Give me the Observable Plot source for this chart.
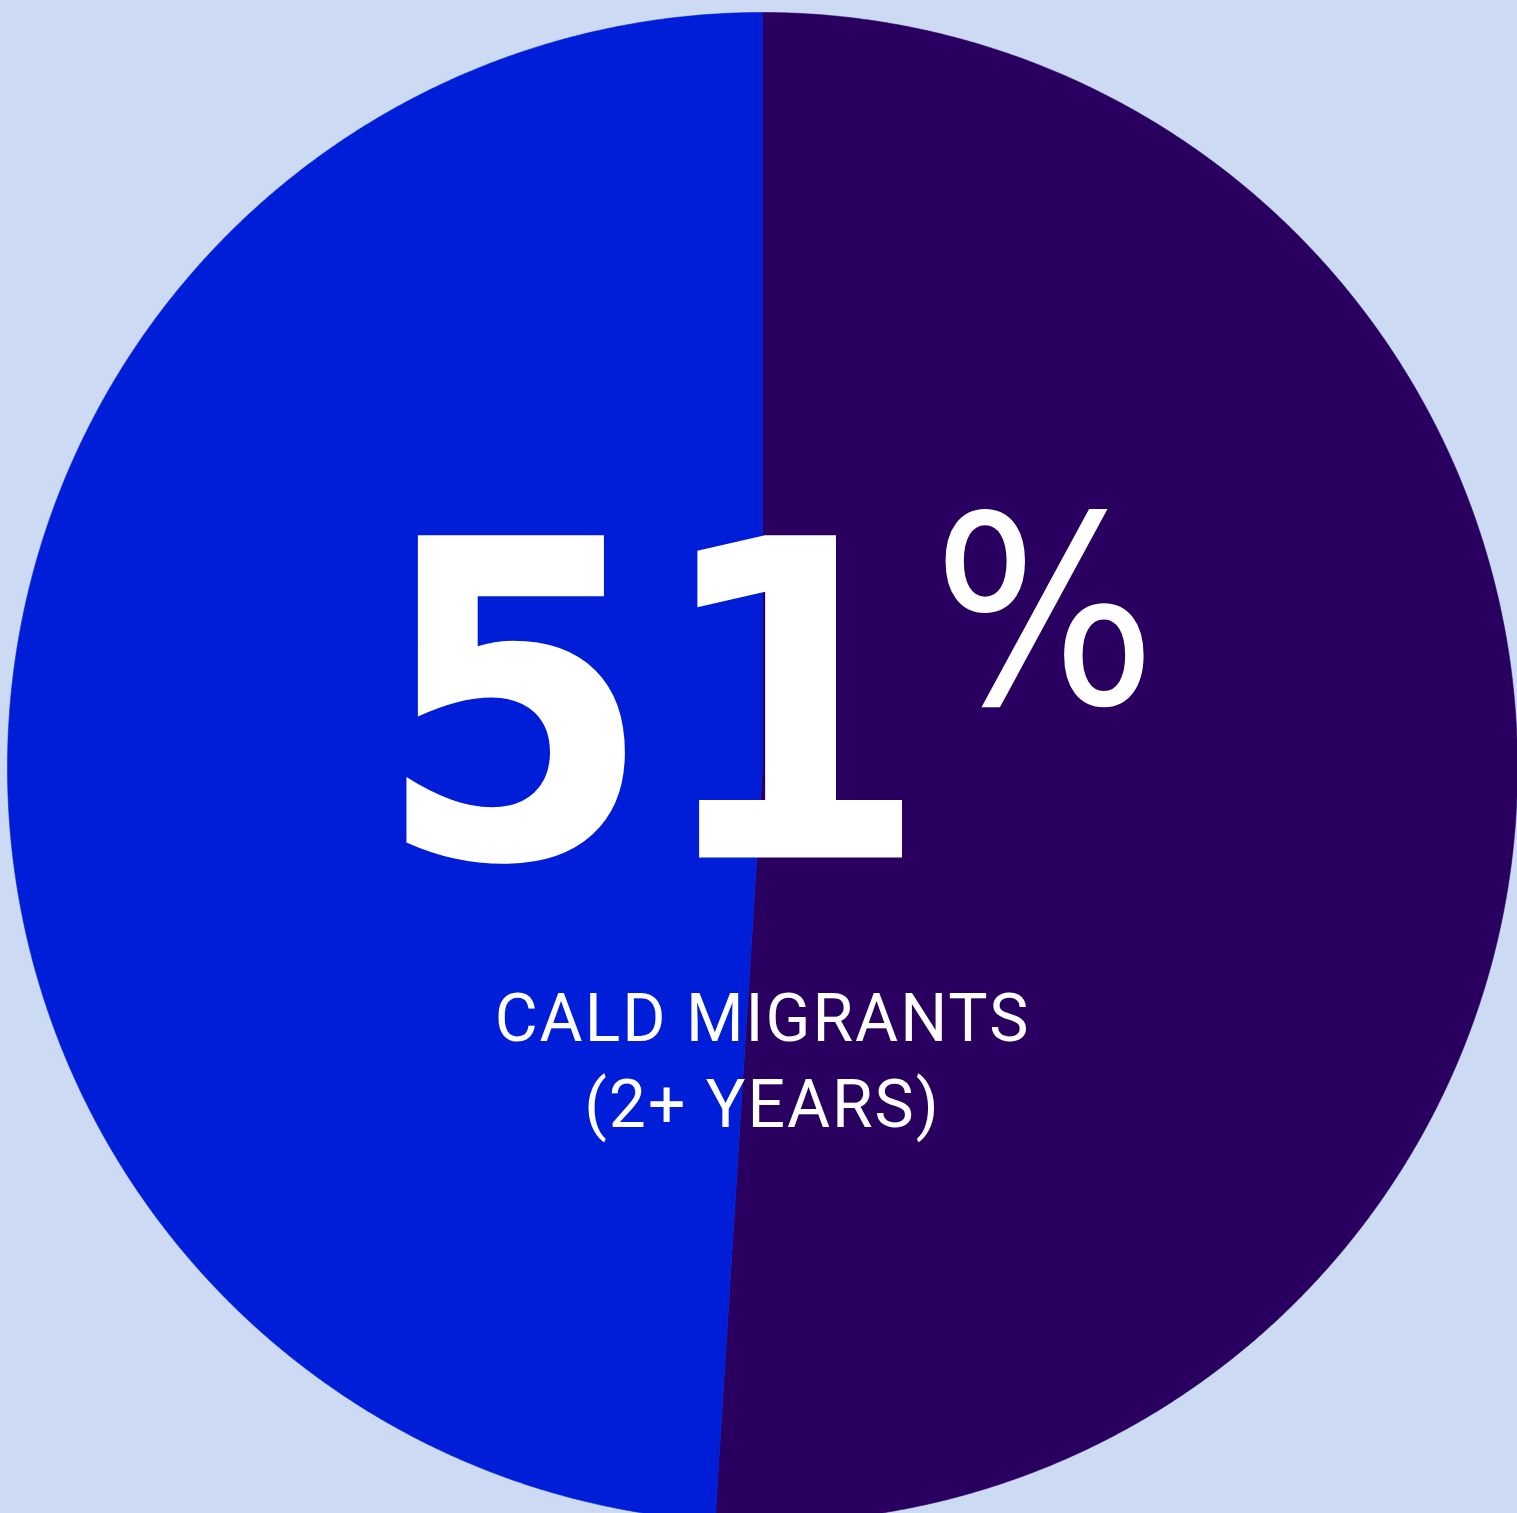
<!DOCTYPE html>
<html>
<head>
<meta charset="utf-8">
<script src="https://cdn.jsdelivr.net/npm/d3@7"></script>
<script src="https://cdn.jsdelivr.net/npm/@observablehq/plot@0.6"></script>
<style>
  html, body { margin: 0; padding: 0; background: #CCDAF4; }
  #chart svg { display: block; }
</style>
</head>
<body>
<div id="chart"></div>
<script>
// ---- data ----
const categories = ["CALD migrants (2+ years)", "Other"];
const values = [51, 49];
const colors = ["#290060", "#001ED8"];
const bigLabel = "51";
const pctLabel = "%";
const captionLines = ["CALD MIGRANTS", "(2+ YEARS)"];

// ---- layout ----
const W = 1517, H = 1513;
const cx = 762, cy = 767, R = 755;

// pie angles via d3.pie (clockwise from top)
const pie = d3.pie().sort(null).value(d => d.value);
const arcs = pie(categories.map((c, i) => ({ cat: c, value: values[i] })));

const pts = [];
for (const a of arcs) {
  const cat = a.data.cat;
  pts.push({ cat, x: 0, y: 0 });
  const n = Math.max(2, Math.ceil((a.endAngle - a.startAngle) / (Math.PI / 720)));
  for (let k = 0; k <= n; k++) {
    const t = a.startAngle + (a.endAngle - a.startAngle) * k / n;
    pts.push({ cat, x: R * Math.sin(t), y: R * Math.cos(t) });
  }
  pts.push({ cat, x: 0, y: 0 });
}

const condensed = "'DejaVu Sans Condensed', 'DejaVu Sans', sans-serif";
const texts = [
  { t: bigLabel, x: -110, y: -90, size: 442, weight: 700, font: condensed },
  { t: pctLabel, x: 282, y: 64, size: 262, weight: 400, font: condensed },
  { t: captionLines[0], x: 0, y: -273, size: 66, weight: 400, font: "Roboto, sans-serif" },
  { t: captionLines[1], x: 0, y: -359, size: 66, weight: 400, font: "Roboto, sans-serif" }
];

const chart = Plot.plot({
  width: W,
  height: H,
  margin: 0,
  x: { domain: [-cx, W - cx], axis: null },
  y: { domain: [-(H - cy), cy], axis: null },
  color: { domain: categories, range: colors },
  style: { background: "#CCDAF4", fontFamily: "Roboto, sans-serif" },
  marks: [
    Plot.line(pts, { x: "x", y: "y", z: "cat", fill: "cat", stroke: "cat", strokeWidth: 0.6 }),
    ...texts.map(d => Plot.text([d], {
      x: "x", y: "y", text: "t",
      fill: "white",
      fontSize: d.size,
      fontWeight: d.weight,
      fontFamily: d.font,
      lineAnchor: "bottom",
      textAnchor: "middle"
    }))
  ]
});
document.getElementById("chart").appendChild(chart);
d3.select(chart).selectAll("text").filter(function() {
  const s = this.textContent;
  return s === captionLines[0] || s === captionLines[1];
}).style("letter-spacing", "2px");
</script>
</body>
</html>
